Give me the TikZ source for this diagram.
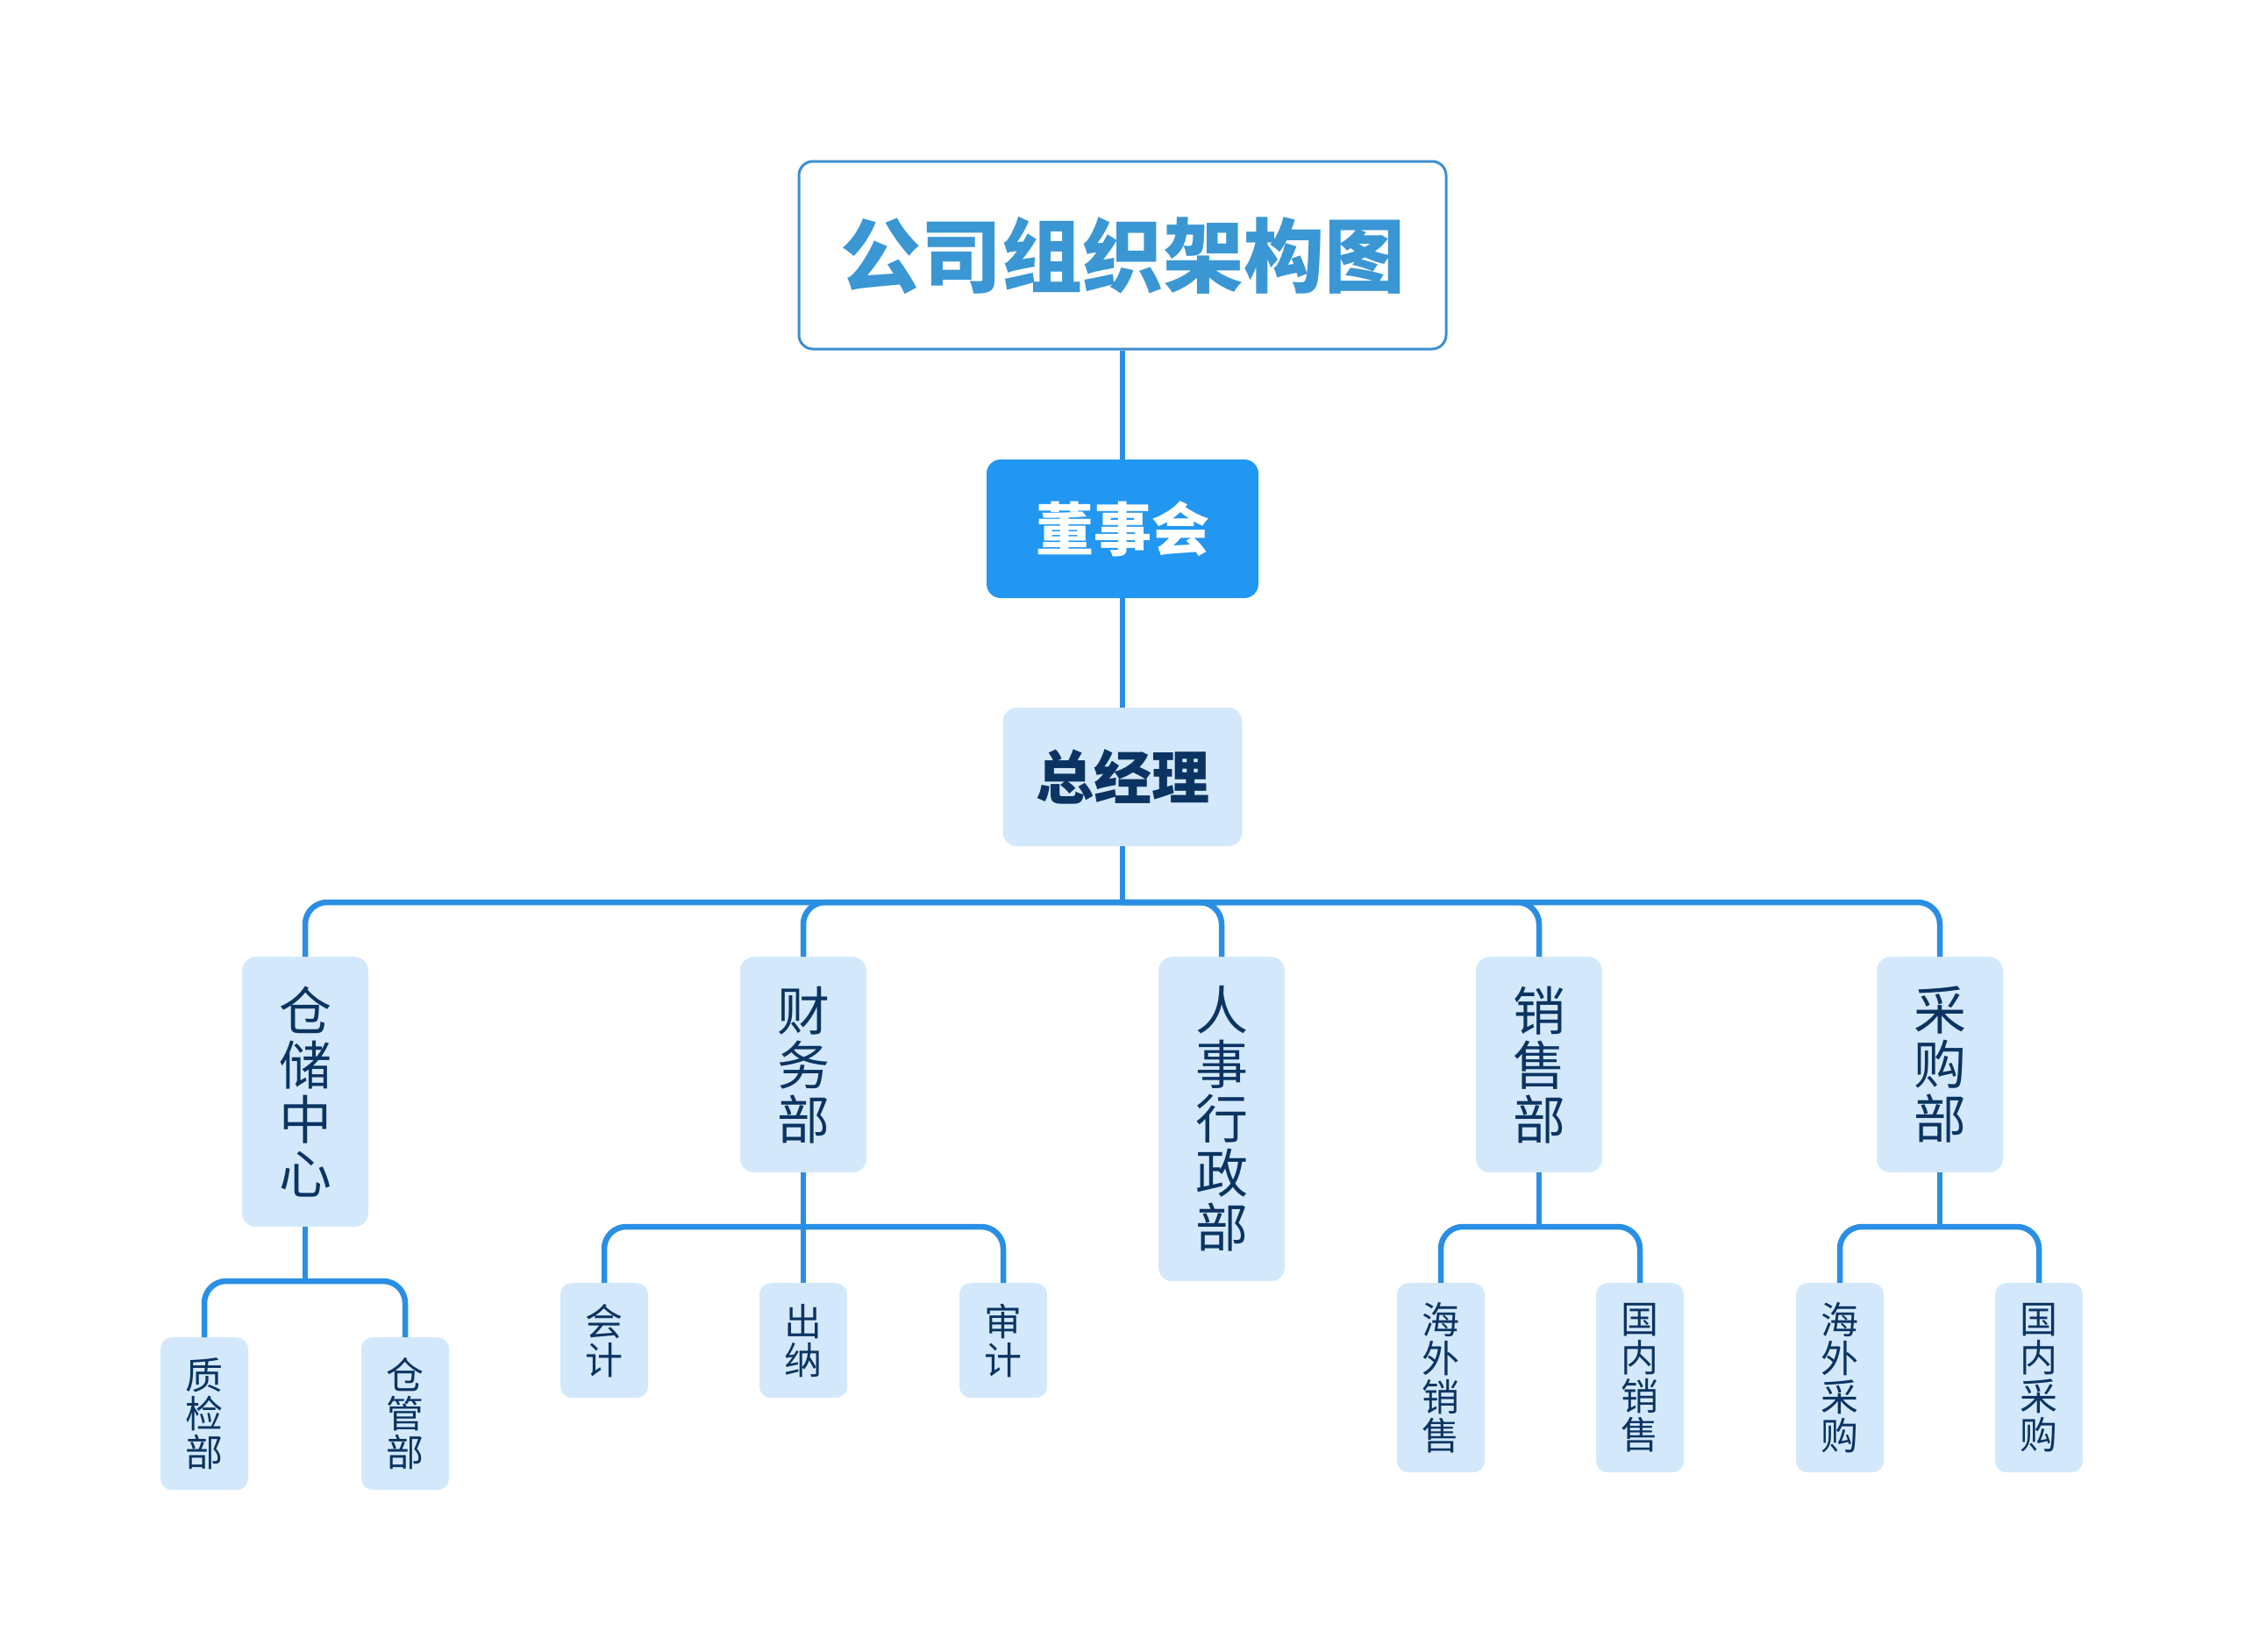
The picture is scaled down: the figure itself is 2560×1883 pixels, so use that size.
\documentclass[tikz,border=0pt]{standalone}
\usepackage{fontspec}
\setmainfont{Noto Sans CJK SC}
\definecolor{linec}{HTML}{2A8FE4}
\definecolor{titlec}{HTML}{3A97D4}
\definecolor{titleb}{HTML}{3D8FCF}
\definecolor{boardc}{HTML}{2297F2}
\definecolor{lightc}{HTML}{D3E9FB}
\definecolor{navyc}{HTML}{0C3462}
\begin{document}
\begin{tikzpicture}[x=1pt,y=-1pt,
  conn/.style={draw=linec,line width=6.5pt,rounded corners=25pt},
  titlebox/.style={draw=titleb,line width=3pt,fill=white,rounded corners=16pt,
    minimum width=738pt,minimum height=214pt,text=titlec,
    font=\fontsize{92}{96}\selectfont\bfseries},
  boardbox/.style={fill=boardc,rounded corners=16pt,minimum width=310pt,
    minimum height=158pt,text=white,font=\fontsize{66}{70}\selectfont\bfseries},
  gmbox/.style={fill=lightc,rounded corners=16pt,minimum width=273pt,
    minimum height=158pt,text=navyc,font=\fontsize{66}{70}\selectfont\bfseries},
  deptbox/.style={fill=lightc,rounded corners=16pt,minimum width=144pt,
    anchor=north,align=center,text=navyc,inner sep=0pt,
    font=\fontsize{60}{62}\selectfont},
  subbox/.style={fill=lightc,rounded corners=13pt,minimum width=100pt,
    anchor=north,align=center,text=navyc,inner sep=0pt,
    font=\fontsize{43}{44}\selectfont}
]
\useasboundingbox (0,0) rectangle (2560,1883);
\fill[white] (0,0) rectangle (2560,1883);

\coordinate (bus) at (0,1029);
\coordinate (busA) at (0,1461);
\coordinate (busB) at (0,1399);

% nodes
\node[titlebox] (title) at (1280,291) {公司组织架构图};
\node[boardbox] (board) at (1280,603) {董事会};
\node[gmbox] (gm) at (1280,886) {总经理};

\node[deptbox,minimum height=308pt] (d1) at (348,1091) {仓\\储\\中\\心};
\node[deptbox,minimum height=246pt] (d2) at (916,1091) {财\\务\\部};
\node[deptbox,minimum height=370pt] (d3) at (1393,1091) {人\\事\\行\\政\\部};
\node[deptbox,minimum height=246pt] (d4) at (1755,1091) {销\\售\\部};
\node[deptbox,minimum height=246pt] (d5) at (2212,1091) {采\\购\\部};

\node[subbox,minimum height=174pt] (s11) at (233,1525) {质\\检\\部};
\node[subbox,minimum height=174pt] (s12) at (462,1525) {仓\\管\\部};

\node[subbox,minimum height=131pt] (s21) at (689,1463) {会\\计};
\node[subbox,minimum height=131pt] (s22) at (916,1463) {出\\纳};
\node[subbox,minimum height=131pt] (s23) at (1144,1463) {审\\计};

\node[subbox,minimum height=216pt] (s41) at (1643,1463) {海\\外\\销\\售};
\node[subbox,minimum height=216pt] (s42) at (1870,1463) {国\\内\\销\\售};

\node[subbox,minimum height=216pt] (s51) at (2098,1463) {海\\外\\采\\购};
\node[subbox,minimum height=216pt] (s52) at (2325,1463) {国\\内\\采\\购};

% connectors
\begin{scope}[on background layer/.style={}]
\draw[conn] (title.south) -- (board.north);
\draw[conn] (board.south) -- (gm.north);
\draw[conn] (gm.south) -- (gm.south |- bus);
\foreach \d in {d1,d2,d3,d4,d5}
  \draw[conn] (gm.south |- bus) -| (\d.north);

\draw[conn] (d1.south) -- (d1.south |- busA);
\foreach \s in {s11,s12}
  \draw[conn] (d1.south |- busA) -| (\s.north);

\draw[conn] (d2.south) -- (d2.south |- busB);
\foreach \s in {s21,s22,s23}
  \draw[conn] (d2.south |- busB) -| (\s.north);

\draw[conn] (d4.south) -- (d4.south |- busB);
\foreach \s in {s41,s42}
  \draw[conn] (d4.south |- busB) -| (\s.north);

\draw[conn] (d5.south) -- (d5.south |- busB);
\foreach \s in {s51,s52}
  \draw[conn] (d5.south |- busB) -| (\s.north);
\end{scope}
\end{tikzpicture}
\end{document}
